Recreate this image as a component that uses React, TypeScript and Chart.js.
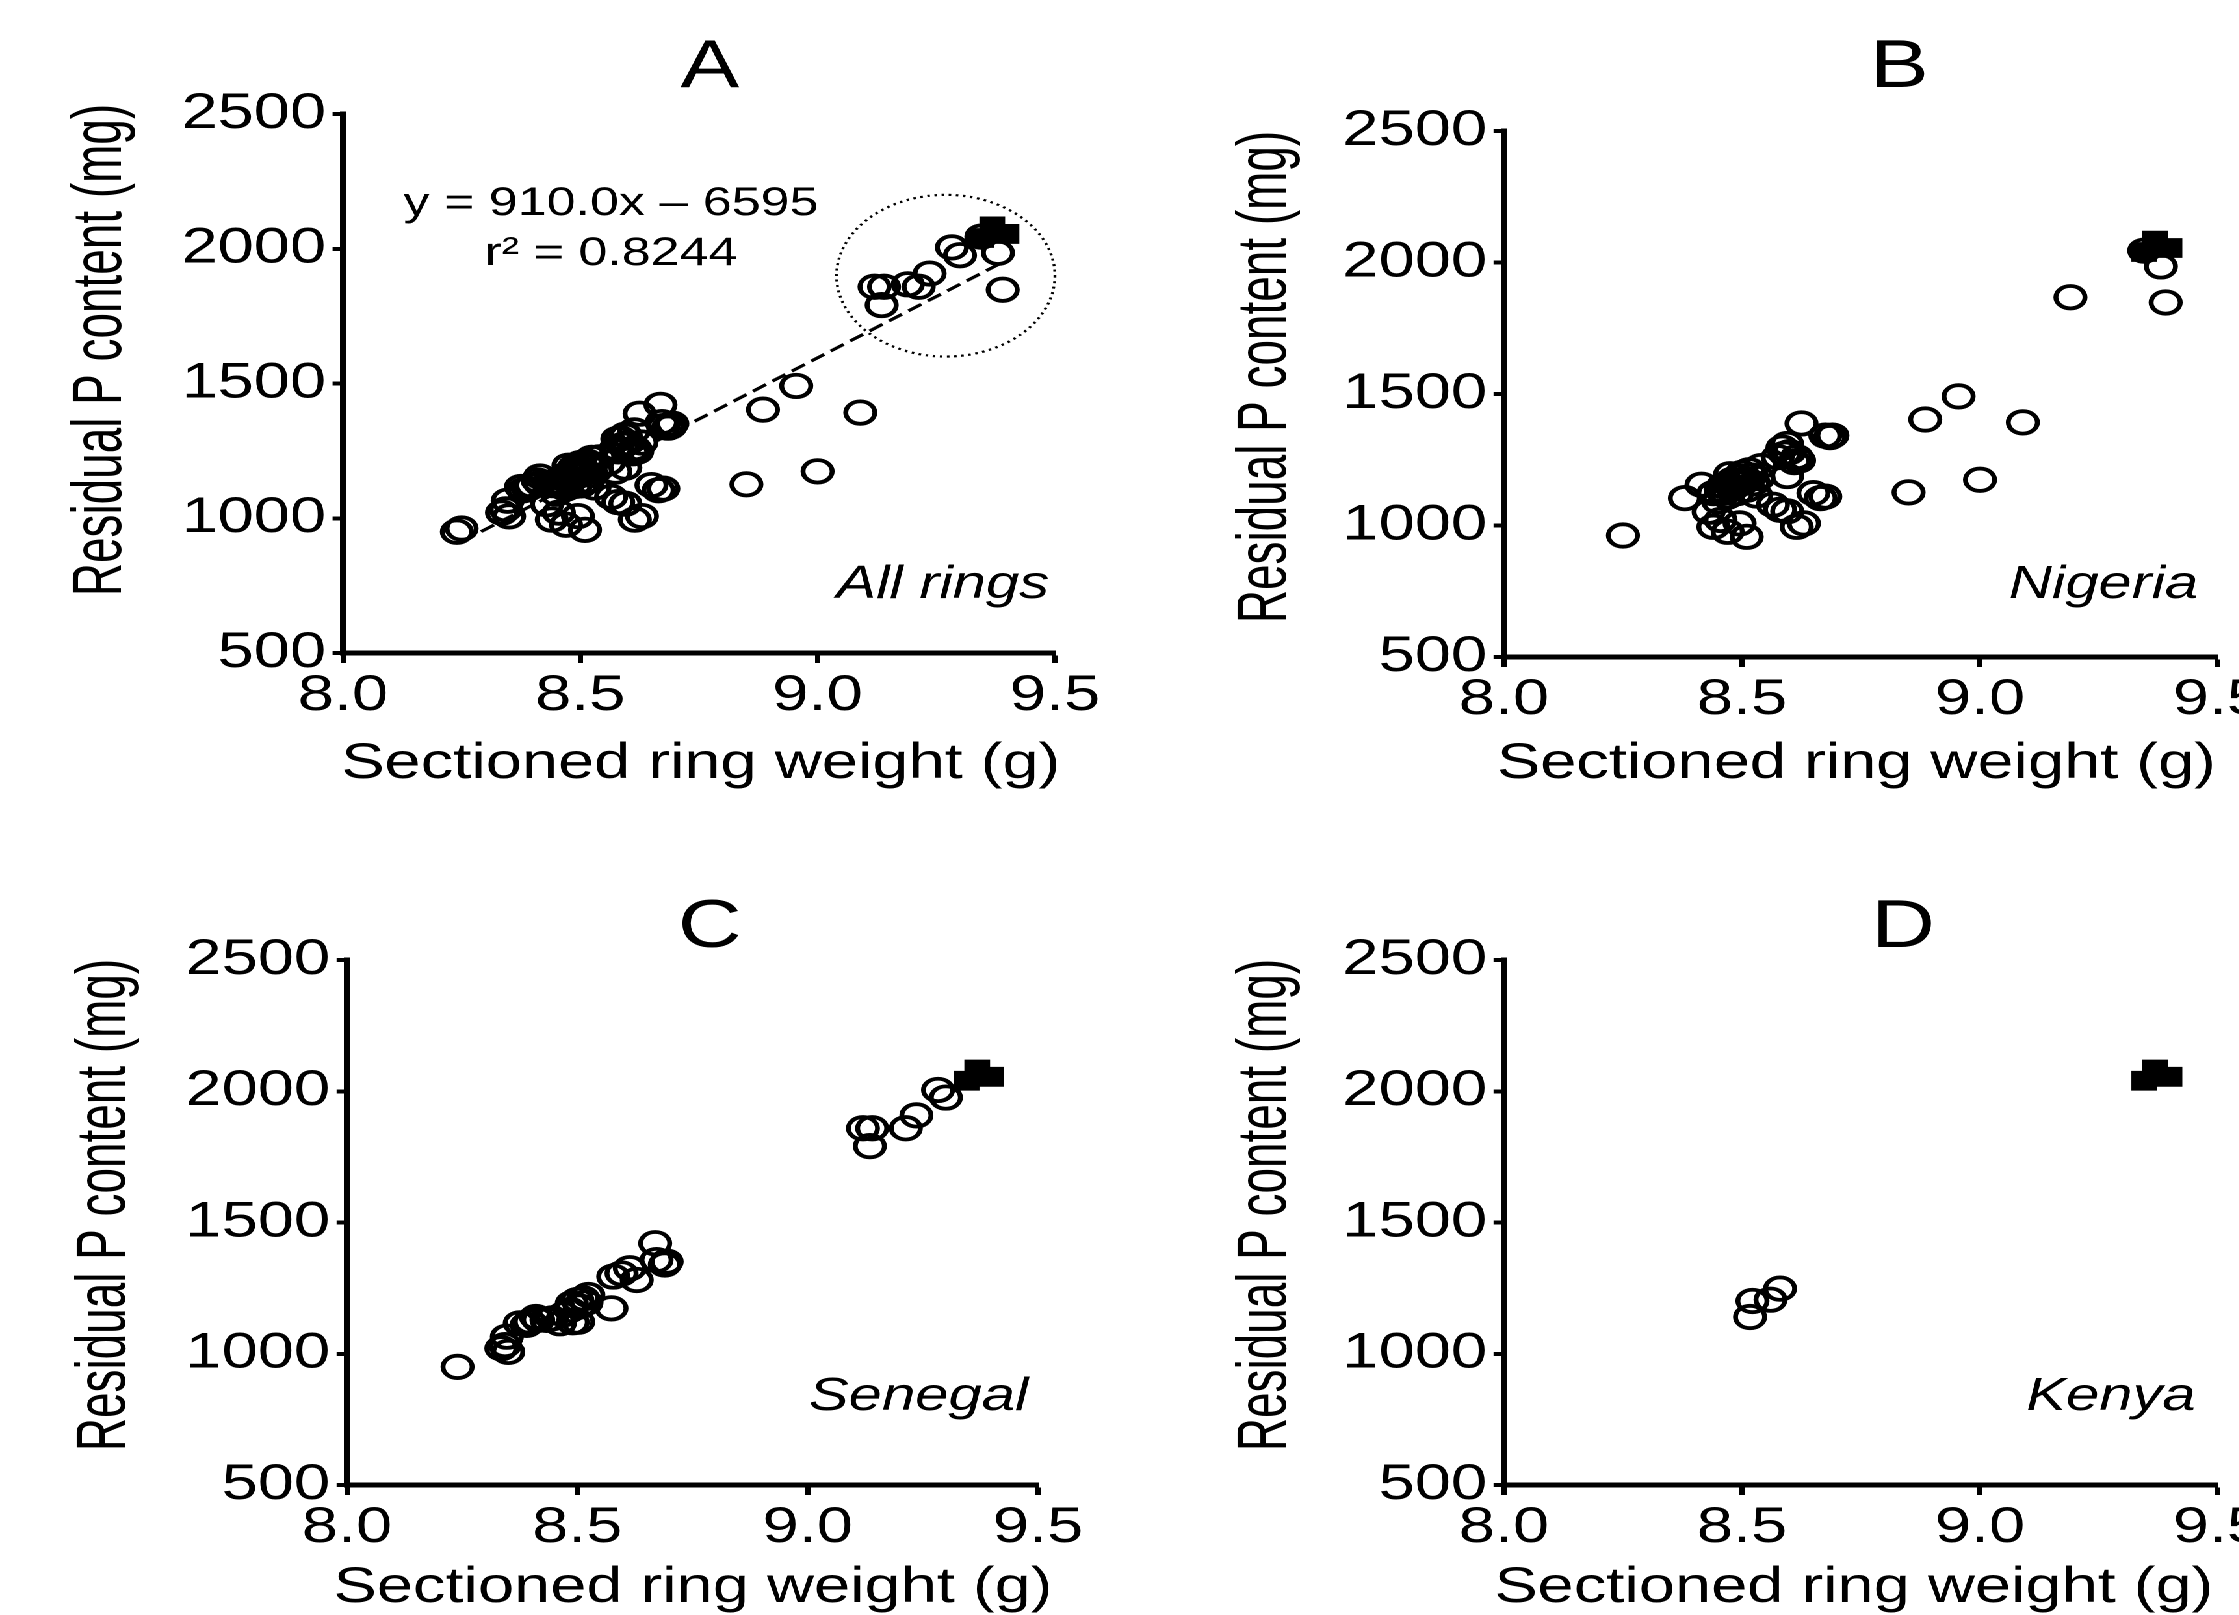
import React, { useEffect, useRef } from "react";
import { Chart, registerables } from "chart.js";

Chart.register(...registerables);

const FONT = '"Liberation Sans", Arial, Helvetica, sans-serif';
Chart.defaults.font.family = FONT;
Chart.defaults.color = "#000";

// horizontal stretch of the original figure
const STRETCH = 1.3;

// ---------- data ----------
const nigeriaX = [
  8.25, 8.38, 8.415, 8.43, 8.44, 8.455, 8.47, 8.51, 8.495, 8.44, 8.455, 8.47, 8.48, 8.495,
  8.51, 8.525, 8.47, 8.49, 8.51, 8.53, 8.45, 8.54, 8.575, 8.585, 8.59, 8.595, 8.6, 8.61,
  8.615, 8.62, 8.625, 8.675, 8.685, 8.69, 8.595, 8.565, 8.58, 8.595, 8.615, 8.63, 8.65,
  8.665, 8.675, 8.85, 8.885, 8.955, 9.0, 9.09, 9.19, 9.345, 9.38, 9.39,
  8.46, 8.48, 8.5, 8.52, 8.5, 8.49, 8.465, 8.515, 8.475, 8.535,
];
const nigeriaY = [
  962, 1104, 1155, 1052, 995, 1021, 976, 957, 1008, 1123, 1136, 1161, 1174, 1186,
  1174, 1161, 1110, 1123, 1136, 1114, 1091, 1226, 1260, 1296, 1273, 1310, 1279, 1241,
  1260, 1247, 1388, 1342, 1336, 1342, 1188, 1079, 1060, 1054, 995, 1008, 1123,
  1104, 1110, 1126, 1403, 1491, 1174, 1392, 1868, 2045, 1985, 1848,
  1150, 1140, 1160, 1190, 1200, 1170, 1125, 1210, 1195, 1180,
];

const senegalX = [
  8.24, 8.335, 8.343, 8.35, 8.347, 8.375, 8.39, 8.397, 8.41, 8.415, 8.433, 8.445, 8.462,
  8.47, 8.485, 8.488, 8.49, 8.5, 8.505, 8.513, 8.52, 8.524, 8.502, 8.574, 8.578, 8.596,
  8.614, 8.629, 8.669, 8.672, 8.69, 8.694, 9.12, 9.14, 9.135, 9.213, 9.236, 9.283, 9.3,
];
const senegalY = [
  950, 1021, 1033, 1007, 1065, 1116, 1110, 1122, 1140, 1129, 1129, 1135, 1116,
  1150, 1167, 1192, 1120, 1205, 1180, 1211, 1195, 1224, 1122, 1173, 1294, 1306,
  1326, 1281, 1421, 1357, 1340, 1351, 1859, 1859, 1791, 1859, 1908, 2005, 1976,
];

const kenyaX = [8.517, 8.522, 8.56, 8.58];
const kenyaY = [1140, 1201, 1206, 1248];

// filled squares (reference rings)
const refX = [9.345, 9.368, 9.398];
const refY = [2040, 2083, 2055];

// regression line end points (y = 910.0x - 6595)
const fitX = [8.25, 9.39];
const fitY = [913, 1950];

// dotted highlight ellipse (data units)
const highlightCenter = [9.27, 1900];
const highlightRadius = [0.23, 300];

const xTicks = [8.0, 8.5, 9.0, 9.5];
const yTicks = [500, 1000, 1500, 2000, 2500];

const xTitle = "Sectioned ring weight (g)";
const yTitle = "Residual P content (mg)";
const equationLines = ["y = 910.0x \u2013 6595", "r\u00B2 = 0.8244"];

type Panel = {
  letter: string;
  label: string;
  xs: number[];
  ys: number[];
  left: number;
  top: number;
  w: number;
  h: number;
  area: { left: number; top: number; right: number; bottom: number };
  titlePos: [number, number];
  yTitlePos: [number, number];
  xTitlePos: [number, number];
  labelPos: [number, number];
  equation?: boolean;
};

const panels: Panel[] = [
  {
    letter: "A",
    label: "All rings",
    xs: [...nigeriaX, ...senegalX, ...kenyaX],
    ys: [...nigeriaY, ...senegalY, ...kenyaY],
    left: 0, top: 0, w: 861, h: 808,
    area: { left: 263.8, top: 114, right: 811.5, bottom: 653 },
    titlePos: [546, 68],
    yTitlePos: [78, 350],
    xTitlePos: [539, 764],
    labelPos: [807, 585],
    equation: true,
  },
  {
    letter: "B",
    label: "Nigeria",
    xs: nigeriaX,
    ys: nigeriaY,
    left: 861, top: 0, w: 930, h: 808,
    area: { left: 295.9, top: 131, right: 845.2, bottom: 657 },
    titlePos: [600, 68],
    yTitlePos: [113, 377],
    xTitlePos: [567, 764],
    labelPos: [830, 585],
  },
  {
    letter: "C",
    label: "Senegal",
    xs: senegalX,
    ys: senegalY,
    left: 0, top: 808, w: 861, h: 807,
    area: { left: 266.9, top: 152, right: 798.5, bottom: 677 },
    titlePos: [546, 120],
    yTitlePos: [81, 397],
    xTitlePos: [533, 780],
    labelPos: [791, 589],
  },
  {
    letter: "D",
    label: "Kenya",
    xs: kenyaX,
    ys: kenyaY,
    left: 861, top: 808, w: 930, h: 807,
    area: { left: 295.9, top: 152, right: 845.2, bottom: 677 },
    titlePos: [603, 120],
    yTitlePos: [113, 397],
    xTitlePos: [565, 780],
    labelPos: [828, 589],
  },
];

function PanelChart({ p }: { p: Panel }) {
  const ref = useRef<HTMLCanvasElement | null>(null);

  useEffect(() => {
    if (!ref.current) return;
    const textPlugin = {
      id: "panelText" + p.letter,
      afterDatasetsDraw(chart: any) {
        if (!p.equation) return;
        const ctx = chart.ctx;
        const xs = chart.scales.x;
        const ys = chart.scales.y;
        const cx = xs.getPixelForValue(highlightCenter[0]);
        const cy = ys.getPixelForValue(highlightCenter[1]);
        const rx = xs.getPixelForValue(highlightCenter[0] + highlightRadius[0]) - cx;
        const ry = cy - ys.getPixelForValue(highlightCenter[1] + highlightRadius[1]);
        ctx.save();
        ctx.strokeStyle = "#000";
        ctx.lineWidth = 2.2;
        ctx.setLineDash([2, 3.5]);
        ctx.beginPath();
        ctx.ellipse(cx, cy, rx, ry, 0, 0, Math.PI * 2);
        ctx.stroke();
        ctx.restore();
      },
      afterDraw(chart: any) {
        const ctx = chart.ctx;
        ctx.save();
        ctx.fillStyle = "#000";
        ctx.textAlign = "center";
        ctx.textBaseline = "middle";
        ctx.font = `68px ${FONT}`;
        ctx.fillText(p.letter, p.titlePos[0], p.titlePos[1]);
        ctx.font = `50px ${FONT}`;
        ctx.fillText(xTitle, p.xTitlePos[0], p.xTitlePos[1]);
        ctx.save();
        ctx.translate(p.yTitlePos[0], p.yTitlePos[1]);
        ctx.rotate(-Math.PI / 2);
        ctx.scale(0.85, 1);
        ctx.font = `54px ${FONT}`;
        ctx.fillText(yTitle, 0, 0);
        ctx.restore();
        ctx.textAlign = "right";
        ctx.font = `italic 46px ${FONT}`;
        ctx.fillText(p.label, p.labelPos[0], p.labelPos[1]);
        if (p.equation) {
          ctx.textAlign = "center";
          ctx.font = `40px ${FONT}`;
          ctx.fillText(equationLines[0], 470, 204);
          ctx.fillText(equationLines[1], 470, 254);
        }
        ctx.restore();
      },
    };

    const datasets: any[] = [];
    if (p.equation) {
      datasets.push({
        type: "line",
        data: fitX.map((x, i) => ({ x, y: fitY[i] })),
        borderColor: "#000",
        borderWidth: 3,
        borderDash: [12, 6],
        pointRadius: 0,
        fill: false,
        showLine: true,
      });
    }
    datasets.push({
      type: "scatter",
      data: p.xs.map((x, i) => ({ x, y: p.ys[i] })),
      pointStyle: "circle",
      pointRadius: 11.2,
      pointHoverRadius: 11.2,
      pointBorderWidth: 3.8,
      pointBorderColor: "#000",
      pointBackgroundColor: "rgba(0,0,0,0)",
    });
    datasets.push({
      type: "scatter",
      data: refX.map((x, i) => ({ x, y: refY[i] })),
      pointStyle: "rect",
      pointRadius: 14,
      pointHoverRadius: 14,
      pointBorderWidth: 0,
      pointBorderColor: "#000",
      pointBackgroundColor: "#000",
    });

    const chart = new Chart(ref.current, {
      type: "scatter",
      data: { datasets },
      plugins: [textPlugin],
      options: {
        animation: false,
        responsive: false,
        devicePixelRatio: 2,
        events: [],
        layout: {
          padding: { left: 0, top: p.area.top, right: p.w - p.area.right, bottom: 0 },
        },
        plugins: { legend: { display: false }, tooltip: { enabled: false } },
        scales: {
          x: {
            type: "linear",
            min: 8,
            max: 9.5,
            afterBuildTicks: (s: any) => {
              s.ticks = xTicks.map((v) => ({ value: v }));
            },
            afterFit: (s: any) => {
              s.height = p.h - p.area.bottom;
            },
            ticks: {
              callback: (v: any) => Number(v).toFixed(1),
              font: { size: 50 },
              color: "#000",
              padding: 3,
              maxRotation: 0,
              autoSkip: false,
            },
            grid: {
              display: true,
              drawOnChartArea: false,
              drawTicks: true,
              tickLength: 10,
              tickWidth: 4,
              tickColor: "#000",
              color: "#000",
            },
            border: { display: true, width: 5, color: "#000" },
          },
          y: {
            type: "linear",
            min: 500,
            max: 2500,
            afterBuildTicks: (s: any) => {
              s.ticks = yTicks.map((v) => ({ value: v }));
            },
            afterFit: (s: any) => {
              s.width = p.area.left;
            },
            ticks: {
              callback: (v: any) => String(v),
              font: { size: 50 },
              color: "#000",
              padding: 5,
              autoSkip: false,
            },
            grid: {
              display: true,
              drawOnChartArea: false,
              drawTicks: true,
              tickLength: 8,
              tickWidth: 4,
              tickColor: "#000",
              color: "#000",
            },
            border: { display: true, width: 5, color: "#000" },
          },
        },
      } as any,
    });
    return () => chart.destroy();
  }, [p]);

  return (
    <div style={{ position: "absolute", left: p.left, top: p.top, width: p.w, height: p.h }}>
      <canvas ref={ref} width={p.w} height={p.h} style={{ width: p.w, height: p.h, display: "block" }} />
    </div>
  );
}

export default function App() {
  return (
    <div
      style={{
        position: "fixed",
        left: 0,
        top: 0,
        width: 2239,
        height: 1615,
        overflow: "hidden",
        background: "#fff",
      }}
    >
      <div
        style={{
          position: "absolute",
          left: 0,
          top: 0,
          width: 2239 / STRETCH,
          height: 1615,
          transform: `scaleX(${STRETCH})`,
          transformOrigin: "0 0",
        }}
      >
        {panels.map((p) => (
          <PanelChart key={p.letter} p={p} />
        ))}
      </div>
    </div>
  );
}
